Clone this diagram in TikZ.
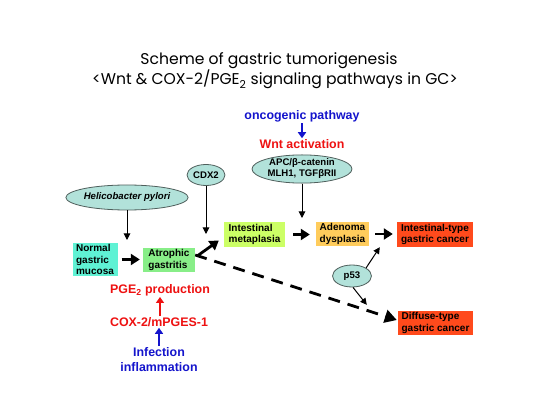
\documentclass[tikz,border=0pt]{standalone}
\usepackage{fontspec}
\setmainfont{Liberation Sans}
\newfontfamily\titlefont{Poppins}
\usetikzlibrary{arrows.meta,shapes.geometric}
\definecolor{cnormal}{HTML}{5FF2D4}
\definecolor{catroph}{HTML}{88EE88}
\definecolor{cmeta}{HTML}{CCFF66}
\definecolor{cadeno}{HTML}{FFCC5C}
\definecolor{ccancer}{HTML}{FF4A1C}
\definecolor{cell}{HTML}{B2E2DA}
\definecolor{cellb}{HTML}{4F5F5C}
\definecolor{cred}{HTML}{EE1111}
\definecolor{cblue}{HTML}{1414CC}
\tikzset{
  box/.style={rectangle, inner sep=0pt, align=left, font=\bfseries\fontsize{10}{11.5}\selectfont},
  oval/.style={ellipse, draw=cellb, line width=0.8pt, fill=cell, inner sep=0pt, align=center, font=\bfseries\fontsize{9.6}{11}\selectfont},
  lab/.style={inner sep=0pt, align=center, font=\bfseries\fontsize{12.4}{15}\selectfont},
  bigarrow/.style={line width=2.8pt, -{Triangle[length=9pt,width=11pt]}},
  thinarrow/.style={line width=1pt, -{Triangle[length=6.5pt,width=6.5pt]}},
  colarrow/.style={line width=1.6pt, -{Triangle[length=6pt,width=8pt]}},
  dasharrow/.style={line width=2.8pt, dash pattern=on 12pt off 8pt, -{Triangle[length=12pt,width=13pt]}},
}
\begin{document}
\begin{tikzpicture}[x=1pt,y=-1pt]
\useasboundingbox (0,0) rectangle (550,412);
\fill[white] (0,0) rectangle (550,412);
% title
\node[anchor=base, inner sep=0pt, font=\titlefont\fontsize{15.6}{18}\selectfont] (title1) at (269,65) {Scheme of gastric tumorigenesis};
\node[anchor=base, inner sep=0pt, font=\titlefont\fontsize{15.6}{18}\selectfont] (title2) at (275,85) {<Wnt \& COX-2/PGE\textsubscript{2} signaling pathways in GC>};
% boxes
\node[box, fill=cnormal, minimum width=45pt, minimum height=33pt] (normal) at (95,259.5) {Normal\\gastric\\mucosa};
\node[box, fill=catroph, minimum width=52pt, minimum height=24pt] (atroph) at (169,260) {Atrophic\\gastritis};
\node[box, fill=cmeta, minimum width=61pt, minimum height=25pt] (meta) at (254.5,234.5) {Intestinal\\metaplasia};
\node[box, fill=cadeno, minimum width=53pt, minimum height=24pt] (adeno) at (342.5,234) {Adenoma\\dysplasia};
\node[box, fill=ccancer, minimum width=76pt, minimum height=25pt] (itype) at (435,234.5) {Intestinal-type\\gastric cancer};
\node[box, fill=ccancer, minimum width=75pt, minimum height=24pt] (dtype) at (435.5,323) {Diffuse-type\\gastric cancer};
% ovals
\node[oval, minimum width=105pt, minimum height=25pt, font=\bfseries\itshape\fontsize{9.6}{11}\selectfont] (helico) at (127,197.5) {Helicobacter pylori};
\node[oval, minimum width=38pt, minimum height=21pt] (cdx) at (206,175) {CDX2};
\node[oval, minimum width=100pt, minimum height=28pt] (apc) at (302,169) {APC/β-catenin\\MLH1, TGFβRII};
\node[oval, minimum width=39pt, minimum height=22pt] (p53) at (352,276) {p53};
% labels
\node[lab, text=cblue] (onco) at (302,116) {oncogenic pathway};
\node[lab, text=cred] (wnt) at (302,144) {Wnt activation};
\node[lab, text=cred] (pge) at (160,290) {PGE\textsubscript{2} production};
\node[lab, text=cred] (cox) at (159,322) {COX-2/mPGES-1};
\node[lab, text=cblue] (infect) at (159,359.5) {Infection\\inflammation};
% connectors
\coordinate (hpend) at (127,240);
\coordinate (cdxend) at (206,234);
\coordinate (apcend) at (302,218);
\draw[thinarrow] (helico) -- (hpend);
\draw[thinarrow] (cdx) -- (cdxend);
\draw[thinarrow] (apc) -- (apcend);
\draw[bigarrow, shorten <=4pt, shorten >=3pt] (normal) -- (normal -| atroph.west);
\draw[bigarrow] ([shift={(2,-4)}]atroph.east) -- ([shift={(-5,6)}]meta.west);
\draw[bigarrow, shorten <=8pt, shorten >=6pt] (meta.east) -- (meta.east -| adeno.west);
\draw[bigarrow, shorten <=6pt, shorten >=4pt] (adeno.east) -- (adeno.east -| itype.west);
\draw[thinarrow] (p53.north east) -- ([xshift=-17pt]itype.south west);
\draw[thinarrow] ([xshift=1pt]p53.south) -- ([shift={(-31,-6)}]dtype.north west);
\draw[dasharrow] ([yshift=5pt]atroph.east) -- ([shift={(-1,-3)}]dtype.west);
\draw[colarrow, cblue, shorten <=1pt, shorten >=1pt] (onco) -- (wnt);
\draw[colarrow, cred, shorten <=1pt, shorten >=1pt] (cox.north -| pge) -- (pge.south);
\draw[colarrow, cblue, shorten <=1pt, shorten >=1pt] (infect.north -| cox) -- (cox.south);
\end{tikzpicture}
\end{document}
